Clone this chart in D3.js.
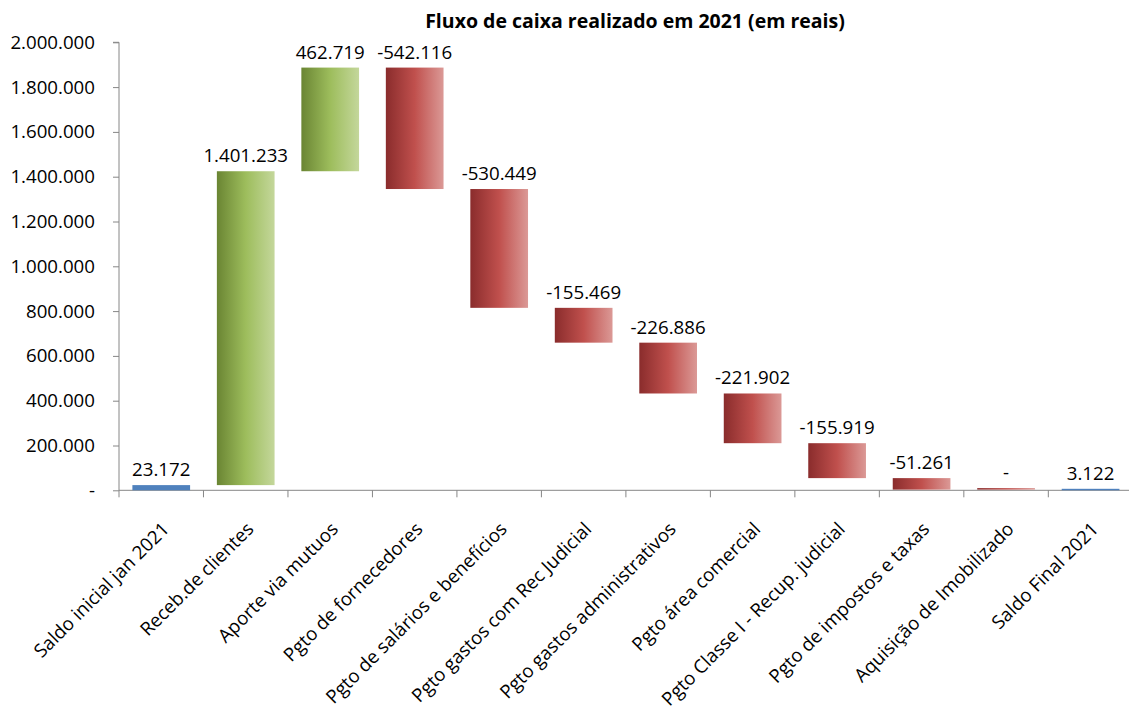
<!DOCTYPE html>
<html>
<head>
<meta charset="utf-8">
<script src="https://cdn.jsdelivr.net/npm/d3@7"></script>
<style>
  html, body { margin: 0; padding: 0; background: #fff; }
  svg { display: block; }
  text { font-family: "Open Sans", "Noto Sans", sans-serif; }
</style>
</head>
<body>
<svg id="chart" width="1129" height="724"></svg>
<script>
// Cash flow items for 2021 (BRL)
const categories = [
  "Saldo inicial jan 2021",
  "Receb.de clientes",
  "Aporte via mutuos",
  "Pgto de fornecedores",
  "Pgto de salários e benefícios",
  "Pgto gastos com Rec Judicial",
  "Pgto gastos administrativos",
  "Pgto área comercial",
  "Pgto Classe I - Recup. judicial",
  "Pgto de impostos e taxas",
  "Aquisição de Imobilizado",
  "Saldo Final 2021"
];
const amounts = [23172, 1401233, 462719, -542116, -530449, -155469, -226886, -221902, -155919, -51261, 0, 3122];
const kinds = ["total", "delta", "delta", "delta", "delta", "delta", "delta", "delta", "delta", "delta", "delta", "total"];
const yTicks = [0, 200000, 400000, 600000, 800000, 1000000, 1200000, 1400000, 1600000, 1800000, 2000000];
const title = "Fluxo de caixa realizado em 2021 (em reais)";

const ptBR = d3.formatLocale({ decimal: ",", thousands: ".", grouping: [3], currency: ["R$", ""], minus: "-" });
const fmt = v => v === 0 ? "-" : ptBR.format(",.0f")(v);
const FS = 18.7;

// Build waterfall segments
let running = 0;
const bars = categories.map((c, i) => {
  const v = amounts[i];
  let lo, hi;
  if (kinds[i] === "total") { lo = 0; hi = v; running = v; }
  else { const start = running; running += v; lo = Math.min(start, running); hi = Math.max(start, running); }
  const color = kinds[i] === "total" ? "blue" : (v > 0 ? "green" : "red");
  return { c, v, lo, hi, color };
});

const svg = d3.select("#chart");
const x = d3.scaleBand().domain(categories).range([119, 1132.8]).paddingInner(0.317).paddingOuter(0.1585);
const step = x.step();
const y = d3.scaleLinear().domain([0, 2000000]).range([490.3, 42.3]);

// Gradients
const defs = svg.append("defs");
const grads = {
  green: ["#6a8533", "#9dbd5c", "#c4d79b"],
  red: ["#8a2c2c", "#c0504d", "#db9996"]
};
Object.entries(grads).forEach(([k, cs]) => {
  const g = defs.append("linearGradient").attr("id", "g-" + k).attr("x1", 0).attr("x2", 1).attr("y1", 0).attr("y2", 0);
  cs.forEach((col, i) => g.append("stop").attr("offset", i / (cs.length - 1)).attr("stop-color", col));
});
const fillFor = d => d.color === "blue" ? "#4f81bd" : `url(#g-${d.color})`;

// Title
svg.append("text")
  .attr("x", 635).attr("y", 28)
  .attr("text-anchor", "middle")
  .attr("font-weight", "bold")
  .attr("font-size", 19.5)
  .attr("fill", "#000")
  .text(title);

// Y axis
const yAxis = d3.axisLeft(y).tickValues(yTicks).tickSize(6)
  .tickFormat(v => v === 0 ? "-" : ptBR.format(",.0f")(v));
const gy = svg.append("g").attr("transform", "translate(119,0)").call(yAxis);
gy.select(".domain").attr("stroke", "#868686").attr("d", `M-6,${y(2000000)}H0V${y(0)}`);
gy.selectAll(".tick line").attr("stroke", "#868686");
gy.selectAll(".tick text").attr("font-size", FS).attr("fill", "#000")
  .style("font-family", '"Open Sans", sans-serif')
  .attr("x", -24);

// X axis line and ticks at band boundaries
const gx = svg.append("g");
gx.append("line").attr("x1", 119).attr("x2", 1132.8).attr("y1", y(0)).attr("y2", y(0)).attr("stroke", "#868686");
gx.selectAll("line.tk").data(categories).join("line").attr("class", "tk")
  .attr("x1", d => x(d) - step * 0.1585).attr("x2", d => x(d) - step * 0.1585)
  .attr("y1", y(0)).attr("y2", y(0) + 7).attr("stroke", "#868686");

// Category labels
gx.selectAll("text.cat").data(categories).join("text").attr("class", "cat")
  .attr("transform", d => `translate(${x(d) + x.bandwidth() / 2 + 9},${y(0) + 40}) rotate(-45)`)
  .attr("text-anchor", "end")
  .attr("font-size", FS)
  .attr("fill", "#000")
  .text(d => d);

// Bars
svg.append("g").selectAll("rect").data(bars).join("rect")
  .attr("x", d => x(d.c))
  .attr("width", x.bandwidth())
  .attr("y", d => Math.min(y(d.hi), y(d.lo) - 1.5))
  .attr("height", d => Math.max(y(d.lo) - y(d.hi), 1.5))
  .attr("fill", fillFor);

// Value labels
svg.append("g").selectAll("text").data(bars).join("text")
  .attr("x", d => x(d.c) + x.bandwidth() / 2)
  .attr("y", d => Math.min(y(d.hi), y(d.lo) - 1.5) - 9)
  .attr("text-anchor", "middle")
  .attr("font-size", FS)
  .attr("fill", "#000")
  .text(d => fmt(d.v));
</script>
</body>
</html>
